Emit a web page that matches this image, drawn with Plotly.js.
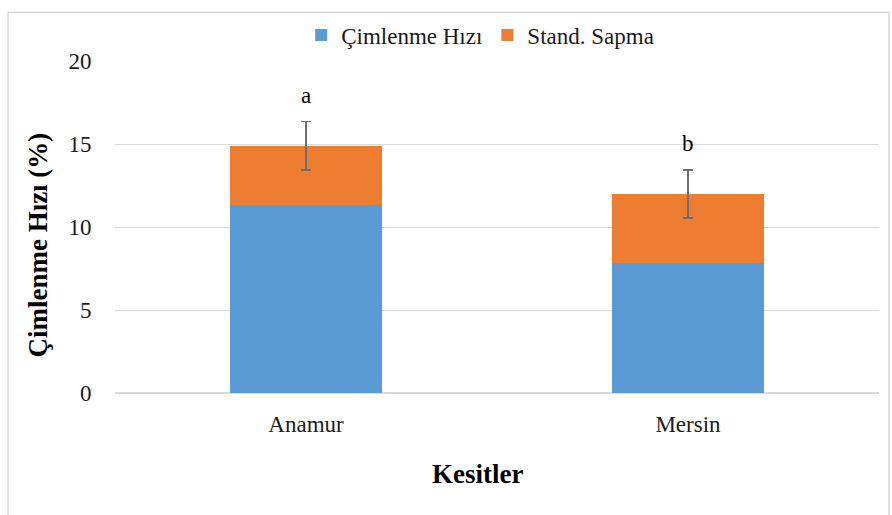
<!DOCTYPE html>
<html>
<head>
<meta charset="utf-8">
<script src="https://cdn.plot.ly/plotly-3.0.1.min.js"></script>
<style>html,body{margin:0;padding:0;background:#fff;}</style>
</head>
<body>
<div id="chart" style="width:892px;height:515px;"></div>
<script>
const categories = ["Anamur", "Mersin"];
const germRate = [11.3, 7.83];
const stdDev = [3.6, 4.17];
const errorVals = [1.45, 1.45];
const groupLetters = ["a", "b"];
const yTicks = [0, 5, 10, 15, 20];
const xTitle = "Kesitler";
const yTitle = "Çimlenme Hızı (%)";

const serif = "Liberation Serif";
const totals = germRate.map((v, i) => v + stdDev[i]);

const traces = [
  {
    type: "bar", name: "Çimlenme Hızı", x: categories, y: germRate,
    marker: {color: "#5b9bd5"}, hoverinfo: "y"
  },
  {
    type: "bar", name: "Stand. Sapma", x: categories, y: stdDev,
    marker: {color: "#ed7d31"}, hoverinfo: "y",
    error_y: {type: "data", array: errorVals, visible: true, color: "#6e6e6e", thickness: 1.6, width: 5}
  }
];

const annotations = categories.map((c, i) => ({
  x: c, y: totals[i] + errorVals[i], text: groupLetters[i], showarrow: false,
  yanchor: "bottom", yshift: 12, font: {family: serif, size: 23, color: "#000"}
}));
annotations.push({
  xref: "paper", yref: "paper", x: 0.475, y: -0.245, xanchor: "center", yanchor: "middle",
  showarrow: false, text: "<b>" + xTitle + "</b>", font: {family: serif, size: 27, color: "#000"}
});
annotations.push({
  xref: "paper", yref: "paper", x: -0.1008, y: 0.447, xanchor: "center", yanchor: "middle",
  showarrow: false, textangle: -90, text: "<b>" + yTitle + "</b>", font: {family: serif, size: 27, color: "#000"}
});

const layout = {
  width: 892, height: 515,
  margin: {l: 115, r: 13, t: 61, b: 121.5},
  paper_bgcolor: "#fff", plot_bgcolor: "#fff",
  barmode: "stack", bargap: 0.6,
  font: {family: serif, size: 23, color: "#1a1a1a"},
  showlegend: true,
  legend: {orientation: "h", x: 0.478, xanchor: "center", y: 1.078, yanchor: "middle",
           font: {family: serif, size: 23, color: "#1a1a1a"}, itemwidth: 30, traceorder: "normal"},
  xaxis: {
    type: "category", showgrid: false, zeroline: false, showline: false,
    ticks: "outside", ticklen: 10, tickcolor: "rgba(0,0,0,0)",
    tickfont: {family: serif, size: 23, color: "#1a1a1a"}
  },
  yaxis: {
    range: [0, 20], tickvals: yTicks, ticktext: yTicks.map(String),
    showgrid: true, gridcolor: "#d9d9d9", gridwidth: 1,
    zeroline: true, zerolinecolor: "#d9d9d9", zerolinewidth: 1.5, showline: false,
    ticks: "outside", ticklen: 18, tickcolor: "rgba(0,0,0,0)",
    tickfont: {family: serif, size: 23, color: "#1a1a1a"}
  },
  annotations: annotations,
  shapes: [{
    type: "rect", xref: "paper", yref: "paper",
    x0: -0.140, x1: 1.013, y0: -0.4, y1: 1.147,
    line: {color: "#d9d9d9", width: 1.5}, fillcolor: "rgba(0,0,0,0)", layer: "below"
  }]
};

Plotly.newPlot("chart", traces, layout, {displayModeBar: false, staticPlot: true});
</script>
</body>
</html>
